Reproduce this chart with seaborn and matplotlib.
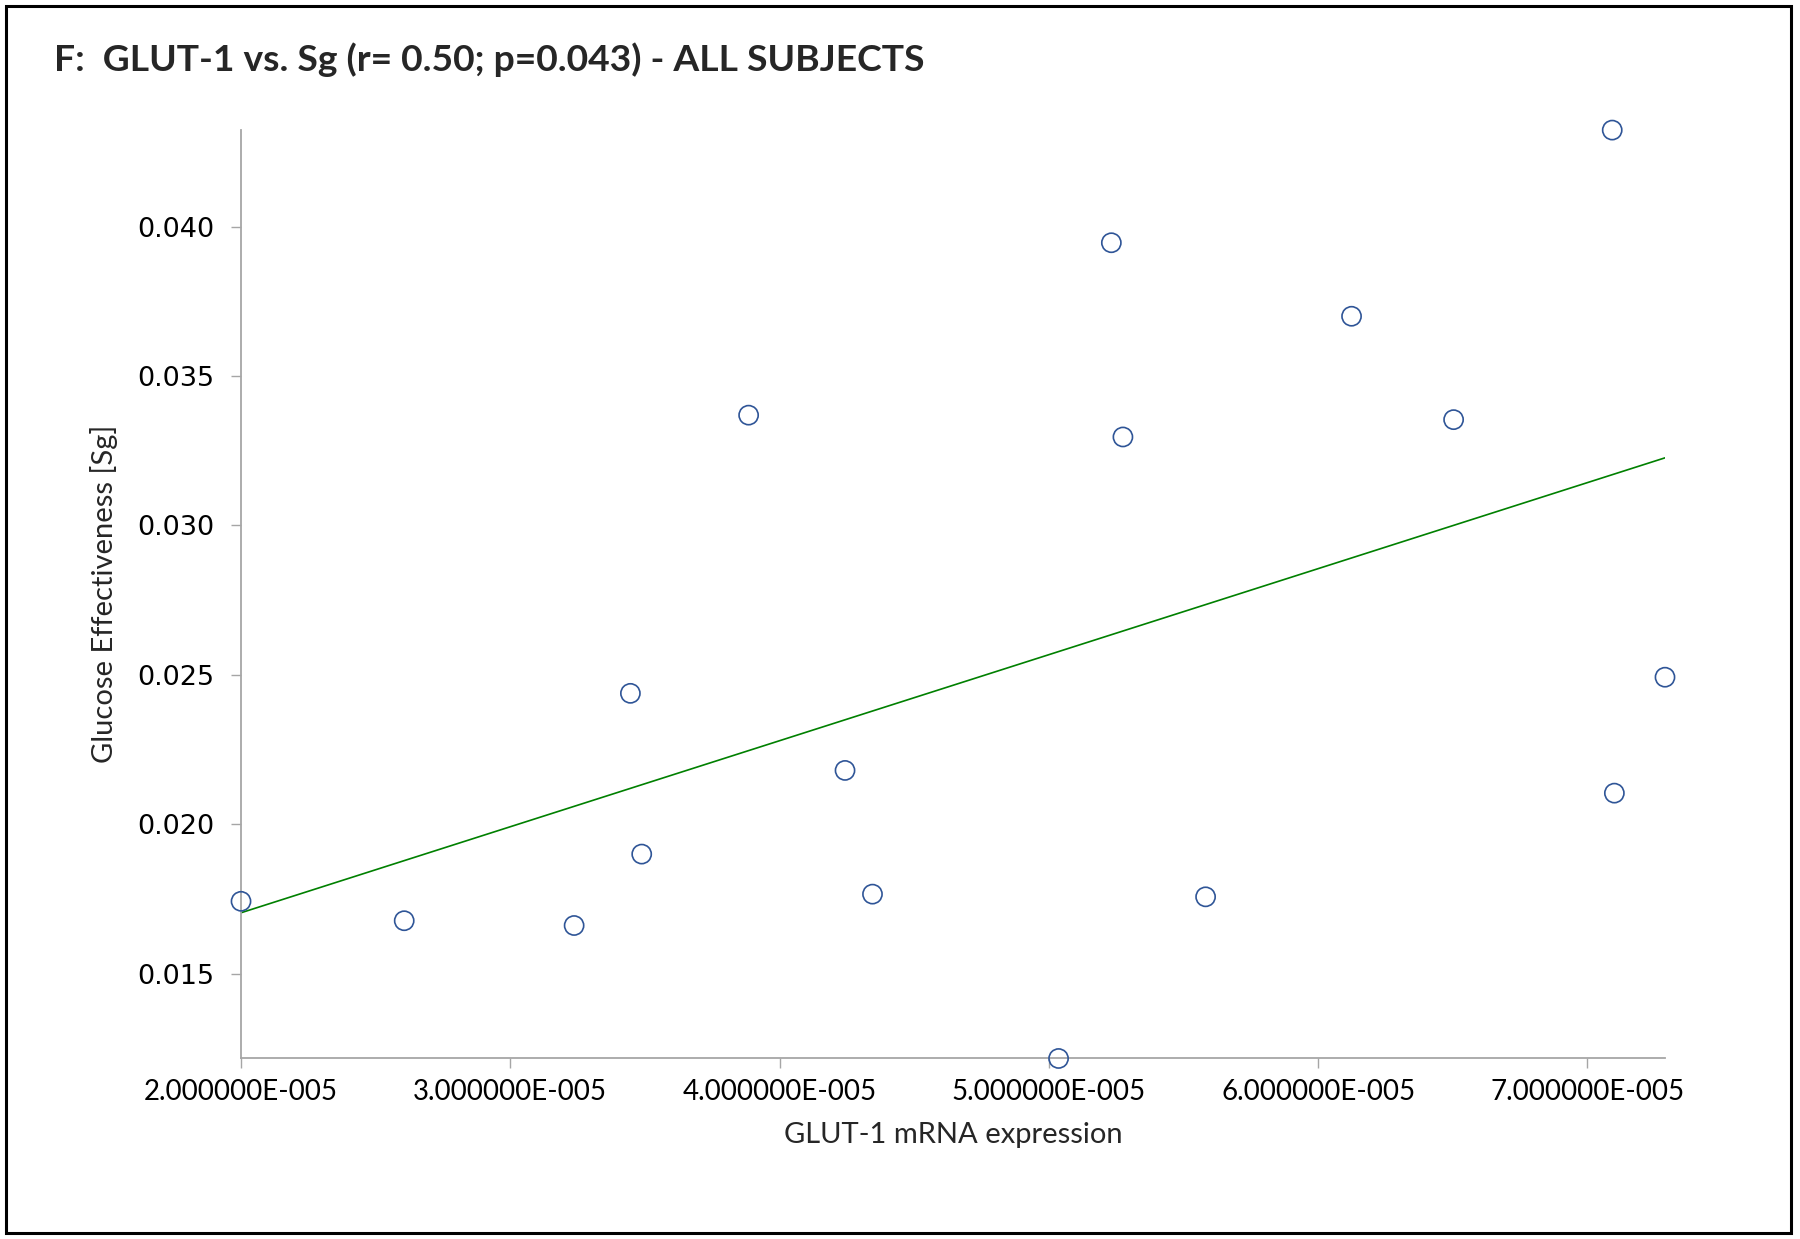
import matplotlib
matplotlib.use("Agg")
import matplotlib.pyplot as plt
import seaborn as sns
import pandas as pd
from matplotlib.patches import Rectangle

# GLUT-1 mRNA expression (x) and glucose effectiveness Sg (y), 17 subjects
glut1 = [2.000e-05, 2.606e-05, 3.237e-05, 3.446e-05, 3.488e-05, 3.885e-05,
         4.243e-05, 4.345e-05, 5.036e-05, 5.232e-05, 5.275e-05, 5.582e-05,
         6.124e-05, 6.503e-05, 7.092e-05, 7.100e-05, 7.288e-05]
sg = [0.01742, 0.01677, 0.01661, 0.02438, 0.01900, 0.03369,
      0.02180, 0.01766, 0.01216, 0.03946, 0.03296, 0.01757,
      0.03700, 0.03354, 0.04323, 0.02104, 0.02492]

x_ticks = [2e-05, 3e-05, 4e-05, 5e-05, 6e-05, 7e-05]
x_tick_labels = ["2.000000E-005", "3.000000E-005", "4.000000E-005",
                 "5.000000E-005", "6.000000E-005", "7.000000E-005"]
y_ticks = [0.015, 0.020, 0.025, 0.030, 0.035, 0.040]
y_tick_labels = ["0.015", "0.020", "0.025", "0.030", "0.035", "0.040"]

title = "F:  GLUT-1 vs. Sg (r= 0.50; p=0.043) - ALL SUBJECTS"
x_label = "GLUT-1 mRNA expression"
y_label = "Glucose Effectiveness [Sg]"

df = pd.DataFrame({"glut1": glut1, "sg": sg})

sns.set_style("white")
plt.rcParams["font.family"] = ["Lato", "DejaVu Sans"]

fig = plt.figure(figsize=(18, 12.39), dpi=100)
ax = fig.add_axes([0.1339, 0.1457, 0.925 - 0.1339, 0.895 - 0.1457])

sns.regplot(data=df, x="glut1", y="sg", ax=ax, scatter=False, ci=None,
            truncate=True, line_kws={"color": "#008000", "lw": 1.2})
sns.scatterplot(data=df, x="glut1", y="sg", ax=ax, s=190,
                facecolor="none", edgecolor="#2F5597", linewidth=1.2,
                zorder=3, clip_on=False)

ax.set_xlim(2.0e-05, 7.288e-05)
ax.set_ylim(0.01216, 0.04323)
ax.set_xticks(x_ticks)
ax.set_xticklabels(x_tick_labels, fontsize=20, family=["Lato", "DejaVu Sans"])
ax.set_yticks(y_ticks)
ax.set_yticklabels(y_tick_labels, fontsize=19.5, family=["DejaVu Sans"])

for side in ["top", "right"]:
    ax.spines[side].set_visible(False)
for side in ["left", "bottom"]:
    ax.spines[side].set_color("#A6A6A6")
    ax.spines[side].set_linewidth(1.3)

ax.tick_params(axis="both", which="major", direction="out", length=7,
               width=1.0, color="#A6A6A6", labelcolor="black", pad=8,
               bottom=True, left=True)
ax.tick_params(axis="y", pad=12)

ax.set_xlabel(x_label, fontsize=21, labelpad=12)
ax.set_ylabel(y_label, fontsize=21, labelpad=14)

fig.text(54 / 1800, 1 - 71 / 1239, title, fontsize=26.8, fontweight="bold",
         ha="left", va="baseline")

fig.patches.append(Rectangle((6 / 1800, 6 / 1239), 1785 / 1800, 1227 / 1239,
                             transform=fig.transFigure, fill=False,
                             edgecolor="black", linewidth=2.2))

fig.savefig("out.png", dpi=100)
